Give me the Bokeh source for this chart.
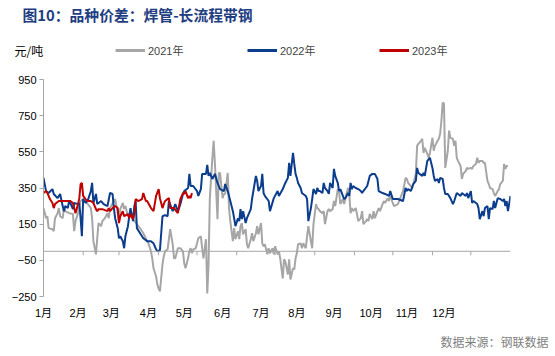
import math
from bokeh.plotting import figure
from bokeh.layouts import column
from bokeh.models import Range1d, FixedTicker, Span, Label, Legend, LegendItem
from bokeh.embed import file_html
from bokeh.resources import INLINE

# ---------------- data (day of year, spread in 元/吨) ----------------
days_2021 = [0,2,3,4,7,8,9,11,12,13, 15,16,17,20,23,24,25,27,28,29, 31,34,37,38,39,41,42,43,45,46,
             48,50,51,52,55,56,58,59,60,62, 63,64,66,68,70,73,76,78,81,82, 84,85,86,88,89,90,91,93,94,95,
             97,98,99,101,102,103,105,107,109,110, 111,113,114,115,116,117,119,120,121,123,
             124,125,127,128,129,130,132,133,134,136, 137,138,140,141,142,144,145,146,148,149,
             150,152,153,154,155,156,158,159,160,162, 163,164,166,167,168,170,171,172,173,175,
             176,177,179,180,181,183,184,185,187,188, 189,191,192,193,195,196,197,198,199,201,
             202,203,205,206,207,209,210,211,213,214, 215,216,218,219,220,222,223,224,226,227,
             228,230,231,232,234,235,236,238,239,240, 241,242,244,245,246,248,249,250,252,253,
             254,255,257,258,259,261,262,263,265,266, 267,269,270,271,273,274,277,281,283,284,
             285,287,288,289,291,292,293,295,296,297, 298,300,301,302,304,305,306,308,309,310,
             311,312,313,314,316,317,318,320,321,322, 323,324,326,327,328,330,331,332,334,335,
             336,338,339,340,341,343,344,345,347,348, 349,351,352,353,355,356,357,359,360,361,
             362,363]
vals_2021 = [239,183,194,128,122,111,183,211,239,194, 183,239,222,211,206,111,167,211,261,278,
             289,267,239,183,56,-17,72,156,139,167, 183,211,183,239,278,289,211,167,233,267,
             233,250,194,211,178,150,122,100,56,44, 0,-39,-94,-139,-183,-206,-222,-72,-28,0,
             11,67,122,39,-39,-39,17,17,0,-67, -94,-39,0,17,-11,11,17,44,72,83,
             17,-39,67,-233,-72,294,517,611,483,178, 433,433,294,317,317,433,239,167,56,128,
             67,111,67,139,156,94,122,39,17,67, 100,56,100,139,94,156,44,28,39,-17,
             17,-11,17,-17,28,-17,0,-39,-150,-44, -56,-128,-44,-156,-94,-100,-39,-11,39,44,
             17,44,17,83,139,56,17,150,261,239, 233,222,211,222,150,222,233,222,233,278,
             250,344,333,261,289,261,294,350,317,211, 239,222,239,206,167,183,222,150,167,178,
             167,206,178,222,183,222,239,222,261,278, 267,294,278,306,267,250,261,333,406,400,
             378,361,350,372,428,583,594,611,622,544, 572,539,517,544,628,556,583,611,622,650,
             722,822,817,461,556,667,628,622,583,611, 517,500,472,400,428,444,461,456,461,456,
             472,483,517,489,500,500,489,489,389,372, 350,344,322,306,333,344,372,389,483,456,
             472,472]

days_2022 = [0,2,4,7,8,11,13,15,16,17, 19,20,21,23,24,27,28,29,30,31, 33,35,37,38,39,41,42,45,47,50,
             52,54,55,56,58,59,60,62,63,64, 66,67,68,70,71,72,73,76,78,81, 84,86,88,89,91,93,95,97,98,101,
             103,105,107,109,110,113,114,115,117,120, 121,123,124,127,128,129,130,132,134,136,
             138,141,142,144,146,148,149,150,152,153, 154,155,156,158,159,162,163,166,167,168,
             170,171,172,173,176,177,180,183,184,187, 189,191,192,193,195,196,197,198,199,201,
             202,203,205,206,207,209,210,211,213,214, 215,216,218,219,220,222,223,224,226,227,
             228,230,231,232,234,235,236,238,239,240, 241,242,244,246,248,249,250,253,255,257,
             259,261,262,265,267,270,271,273,277,281, 283,284,285,287,288,289,291,292,293,296,
             297,298,300,302,304,305,306,308,309,310, 312,313,314,316,318,320,321,323,326,327,
             330,331,332,334,335,336,339,340,341,343, 344,345,347,348,349,351,352,353,355,357,
             359,360,361,362,363,365]
vals_2022 = [406,333,322,344,317,294,317,250,222,250, 239,278,267,233,267,261,267,183,83,289,
             267,289,333,378,267,317,261,278,261,250, 322,317,239,183,128,72,83,56,17,83,
             139,194,239,167,250,278,128,94,72,56, 56,44,11,0,6,194,200,194,278,222,
             261,222,261,317,333,350,428,361,361,333, 306,344,428,428,478,417,433,400,428,378,
             344,333,372,333,278,222,183,139,183,167, 233,178,222,156,183,233,289,417,389,333,
             361,428,322,306,278,222,294,333,306,344, 378,406,489,417,544,483,428,406,378,350,
             322,317,306,289,167,239,289,344,317,350, 333,333,322,378,350,333,317,378,350,456,
             417,378,333,344,306,289,294,322,306,378, 344,361,350,344,333,322,333,361,417,428,
             428,400,333,322,317,306,333,289,289,278, 350,333,344,333,350,372,389,461,433,417,
             433,417,500,517,461,417,389,400,378,406, 400,350,317,317,294,261,278,322,306,322,
             306,322,294,333,267,278,261,239,178,222, 194,239,250,178,239,233,278,239,294,289,
             278,289,250,278,222,306]

days_2023 = [0,2,3,4,5,7,8,9,12,16, 21,23,25,27,28,29,30,31,34,37, 39,41,42,43,46,50,51,52,54,56,
             58,59,60,62,63,66,67,68,70,71, 72,74,77,78,80,81,84,86,88,90, 91,93,94,95,98,99,102,105,107,109,
             110,111,113,114,115,116]
vals_2023 = [322,333,322,306,289,267,239,261,278,278, 278,267,211,261,294,372,378,306,278,278,
             267,233,222,233,233,222,239,222,239,250, 239,156,194,222,194,206,183,206,178,206,
             289,278,289,322,278,278,239,222,306,344, 294,239,261,278,294,239,239,211,289,322,
             317,333,294,306,294,322]

month_labels = ["1月", "2月", "3月", "4月", "5月", "6月", "7月", "8月", "9月", "10月", "11月", "12月"]
label_days = [0, 27, 53, 82, 110, 140, 170, 198, 227, 256, 284, 313]
month_start_days = [31, 59, 90, 120, 151, 181, 212, 243, 273, 304, 334]
y_ticks = [-250, -50, 150, 350, 550, 750, 950]

series = [
    ("2021年", days_2021, vals_2021, "#A6A6A6"),
    ("2022年", days_2022, vals_2022, "#0B3D8C"),
    ("2023年", days_2023, vals_2023, "#C00000"),
]
title_text = "图10：品种价差：焊管-长流程带钢"
unit_text = "元/吨"
source_text = "数据来源：钢联数据"

AXIS_GRAY = "#A6A6A6"
FONT = "'Liberation Sans', 'Noto Sans CJK SC'"
W = 555
TOP_H, MAIN_H, BOT_H = 70, 256, 30


def no_align(f):
    if "frame_align" in f.properties():
        f.frame_align = False


def bare(h):
    f = figure(width=W, height=h, output_backend="svg", toolbar_location=None,
               x_range=Range1d(0, W), y_range=Range1d(0, h),
               x_axis_type=None, y_axis_type=None,
               min_border=0, min_border_left=0, min_border_right=0,
               min_border_top=0, min_border_bottom=0)
    f.grid.visible = False
    f.outline_line_color = None
    f.background_fill_color = "white"
    f.border_fill_color = "white"
    no_align(f)
    return f


# ---------------- header: title, unit, legend ----------------
top = bare(TOP_H)
top.add_layout(Label(x=22, y=TOP_H - 14, x_units="screen", y_units="screen",
                     text=title_text, text_font="Noto Sans CJK SC",
                     text_font_style="bold", text_font_size="14.8px", text_color="#1F3E82",
                     text_baseline="middle", text_align="left"))
top.add_layout(Label(x=14, y=TOP_H - 50, x_units="screen", y_units="screen",
                     text=unit_text, text_font="Noto Sans CJK SC", text_font_size="12px",
                     text_color="#000000", text_baseline="middle", text_align="left"))
items = []
for name, d, v, c in series:
    r = top.line(x=[0], y=[math.nan], line_color=c, line_width=3)
    items.append(LegendItem(label=name, renderers=[r]))
legend = Legend(items=items, orientation="horizontal", location=(115, TOP_H - 60),
                glyph_width=30, glyph_height=20, label_width=99, spacing=0,
                padding=0, margin=0, label_standoff=3,
                label_text_font_size="11px", label_text_font=FONT,
                border_line_alpha=0, background_fill_alpha=0)
top.add_layout(legend)

# ---------------- main chart ----------------
p = figure(width=W, height=MAIN_H, output_backend="svg", toolbar_location=None,
           x_range=Range1d(0, 365), y_range=Range1d(-250, 950),
           min_border_left=43, min_border_right=45, min_border_top=9, min_border_bottom=30)
p.outline_line_color = None
p.grid.visible = False
p.background_fill_color = "white"
p.border_fill_color = "white"
no_align(p)

p.yaxis.ticker = FixedTicker(ticks=y_ticks)
p.yaxis.axis_line_color = AXIS_GRAY
p.yaxis.major_tick_line_color = AXIS_GRAY
p.yaxis.major_tick_out = 4
p.yaxis.major_tick_in = 0
p.yaxis.minor_tick_line_color = None
p.yaxis.major_label_text_font_size = "11px"
p.yaxis.major_label_text_font = FONT
p.yaxis.major_label_text_color = "#000000"
p.yaxis.major_label_standoff = 3

p.xaxis.ticker = FixedTicker(ticks=label_days)
p.xaxis.major_label_overrides = {d: m for d, m in zip(label_days, month_labels)}
p.xaxis.axis_line_color = None
p.xaxis.major_tick_line_color = None
p.xaxis.minor_tick_line_color = None
p.xaxis.major_label_text_font_size = "11px"
p.xaxis.major_label_text_font = FONT
p.xaxis.major_label_text_color = "#000000"
p.xaxis.major_label_standoff = 4

p.add_layout(Span(location=0, dimension="width", line_color=AXIS_GRAY, line_width=1))
p.segment(x0=month_start_days, x1=month_start_days,
          y0=[0] * len(month_start_days), y1=[-22] * len(month_start_days),
          line_color=AXIS_GRAY, line_width=1)

for name, d, v, c in series:
    n = min(len(d), len(v))
    p.line(d[:n], v[:n], line_color=c, line_width=2)

# ---------------- footer: source ----------------
bot = bare(BOT_H)
bot.add_layout(Label(x=548, y=BOT_H - 15, x_units="screen", y_units="screen",
                     text=source_text, text_font="Noto Sans CJK SC", text_font_size="12px",
                     text_color="#7F7F7F", text_baseline="middle", text_align="right"))

layout = column(top, p, bot, spacing=0)
open("out.html", "w").write(file_html(layout, INLINE))
